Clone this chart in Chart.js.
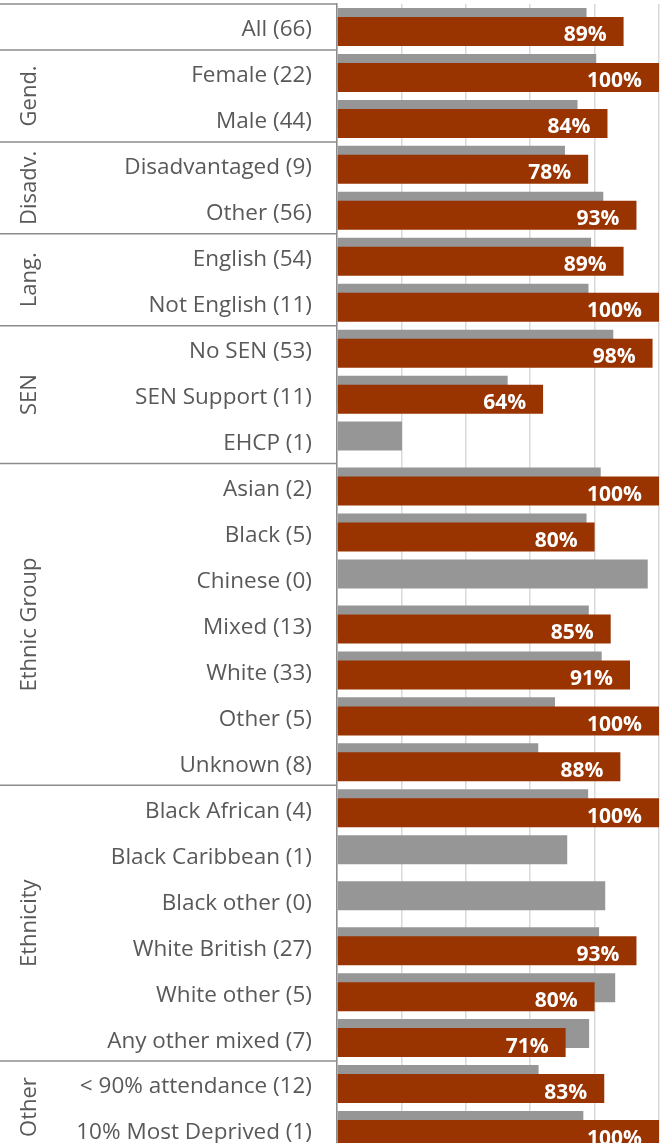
<!DOCTYPE html>
<html>
<head>
<meta charset="utf-8">
<script src="https://cdn.jsdelivr.net/npm/chart.js@4"></script>
<style>
  html, body { margin: 0; padding: 0; background: #fff; overflow: hidden; }
  #wrap { width: 660px; height: 1156px; }
</style>
</head>
<body>
<div id="wrap"><canvas id="chart"></canvas></div>
<script>
const labels = [
  'All (66)', 'Female (22)', 'Male (44)', 'Disadvantaged (9)', 'Other (56)',
  'English (54)', 'Not English (11)', 'No SEN (53)', 'SEN Support (11)', 'EHCP (1)',
  'Asian (2)', 'Black (5)', 'Chinese (0)', 'Mixed (13)', 'White (33)', 'Other (5)', 'Unknown (8)',
  'Black African (4)', 'Black Caribbean (1)', 'Black other (0)', 'White British (27)',
  'White other (5)', 'Any other mixed (7)', '< 90% attendance (12)', '10% Most Deprived (1)'
];

// grey comparison bars
const comparison = [
  77.5, 80.5, 74.7, 70.8, 82.7,
  78.9, 78.1, 85.8, 53.0, 20.2,
  81.9, 77.5, 96.5, 78.2, 82.2, 67.7, 62.5,
  78.0, 71.5, 83.3, 81.4, 86.4, 78.3, 62.6, 76.5
];

// school bars (brown)
const school = [
  89, 100, 84, 78, 93,
  89, 100, 98, 64, null,
  100, 80, null, 85, 91, 100, 88,
  100, null, null, 93, 80, 71, 83, 100
];

const groupNames = ['', 'Gend.', 'Disadv.', 'Lang.', 'SEN', 'Ethnic Group', 'Ethnicity', 'Other'];
const groupSizes = [1, 2, 2, 2, 3, 7, 6, 2];

const FONT = "'Open Sans', 'Noto Sans', sans-serif";
const TEXT_GREY = '#595959';

// grey bar sits in the top slot but must be painted under the brown one
const drawOrder = {
  id: 'drawOrder',
  beforeDatasetDraw(chart, args) {
    if (args.index === 1) return false;
  },
  afterDatasetDraw(chart, args) {
    if (args.index === 0) chart.getDatasetMeta(1).controller.draw();
  }
};

const valueLabels = {
  id: 'valueLabels',
  afterDatasetsDraw(chart) {
    const ctx = chart.ctx;
    const meta = chart.getDatasetMeta(1);
    ctx.save();
    ctx.font = `bold 21px ${FONT}`;
    ctx.fillStyle = '#fff';
    ctx.textAlign = 'right';
    ctx.textBaseline = 'middle';
    meta.data.forEach((bar, i) => {
      if (school[i] == null) return;
      ctx.fillText(school[i] + '%', bar.x - 17, bar.y + 4);
    });
    ctx.restore();
  }
};

const groups = {
  id: 'groups',
  afterDraw(chart) {
    const ctx = chart.ctx;
    const y = chart.scales.y;
    const rowH = y.getPixelForValue(1) - y.getPixelForValue(0);
    const axisX = chart.chartArea.left;
    let start = 0;
    ctx.save();
    groupSizes.forEach((size, g) => {
      const top = y.getPixelForValue(start) - rowH / 2;
      const bottom = top + rowH * size;
      ctx.strokeStyle = '#8c8c8c';
      ctx.lineWidth = 1.5;
      ctx.beginPath();
      ctx.moveTo(0, top);
      ctx.lineTo(axisX, top);
      ctx.stroke();
      if (groupNames[g]) {
        ctx.save();
        ctx.translate(30, (top + bottom) / 2);
        ctx.rotate(-Math.PI / 2);
        ctx.font = `22px ${FONT}`;
        ctx.fillStyle = TEXT_GREY;
        ctx.textAlign = 'center';
        ctx.textBaseline = 'middle';
        ctx.fillText(groupNames[g], 0, 0);
        ctx.restore();
      }
      start += size;
    });
    ctx.restore();
  }
};

new Chart(document.getElementById('chart'), {
  type: 'bar',
  data: {
    labels,
    datasets: [
      {
        label: 'Comparison',
        data: comparison,
        backgroundColor: '#969696'
      },
      {
        label: 'School',
        data: school,
        backgroundColor: '#993300'
      }
    ]
  },
  options: {
    indexAxis: 'y',
    responsive: true,
    maintainAspectRatio: false,
    animation: false,
    categoryPercentage: 0.392,
    barPercentage: 3.22,
    layout: { padding: { top: 4, right: 1, bottom: 3, left: 0 } },
    plugins: {
      legend: { display: false },
      tooltip: { enabled: false }
    },
    scales: {
      x: {
        min: 0,
        max: 100,
        ticks: { display: false, stepSize: 20 },
        grid: { color: '#d9d9d9', lineWidth: 1.5, drawTicks: false },
        border: { display: false }
      },
      y: {
        ticks: {
          autoSkip: false,
          padding: 25,
          labelOffset: 3,
          color: TEXT_GREY,
          font: { family: FONT, size: 22.5 }
        },
        grid: { display: false, drawTicks: false },
        border: { color: '#8c8c8c', width: 1.5 },
        afterFit(scale) {
          scale.width = 337;
          scale.paddingTop = 0;
          scale.paddingBottom = 0;
        }
      }
    }
  },
  plugins: [drawOrder, valueLabels, groups]
});
</script>
</body>
</html>
